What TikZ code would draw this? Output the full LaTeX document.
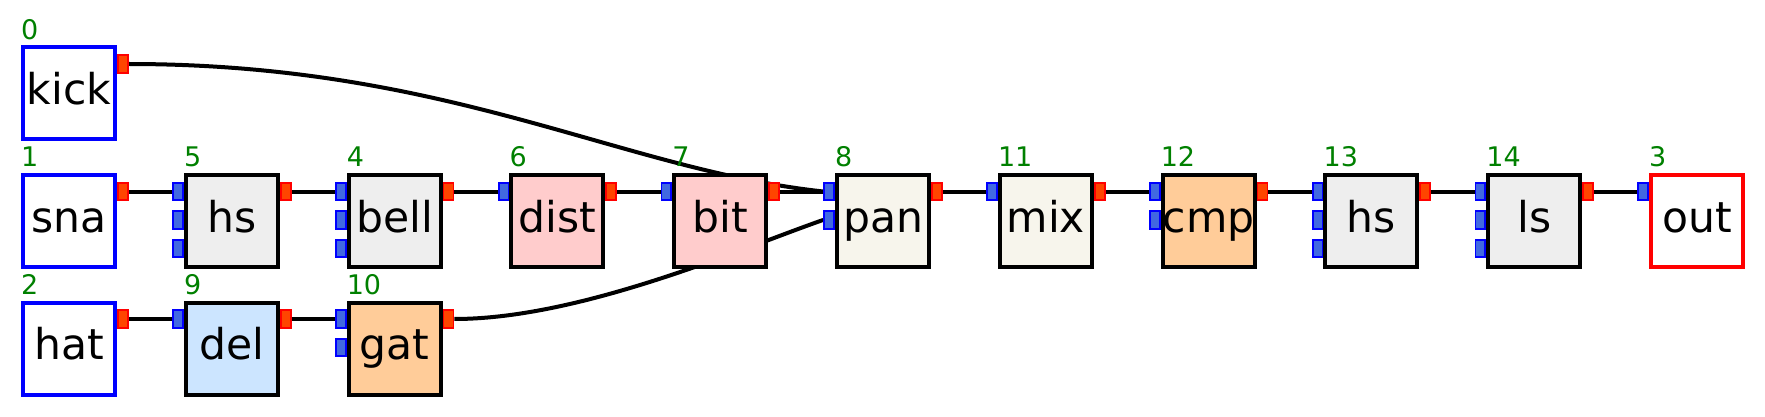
\documentclass[tikz,border=0pt]{standalone}
\usepackage{fontspec}
\setmainfont{DejaVu Sans}
\usetikzlibrary{positioning,backgrounds}
\definecolor{fillgray}{HTML}{EEEEEE}
\definecolor{fillpink}{HTML}{FFCCCC}
\definecolor{fillpeach}{HTML}{FFCC99}
\definecolor{fillivory}{HTML}{F7F5EC}
\definecolor{fillsky}{HTML}{CCE5FF}
\definecolor{portblue}{HTML}{4169E1}
\definecolor{portred}{HTML}{FF4500}
\definecolor{numgreen}{HTML}{008000}

\begin{document}
\begin{tikzpicture}[x=1pt, y=-1pt, node distance={31.5pt and 66.8pt},
  blk/.style={draw, line width=4pt, fill=fillgray, minimum width=92pt,
    minimum height=92pt, inner sep=0pt, text height=32pt, text depth=10pt,
    font=\fontsize{42.5}{50}\selectfont, label={[lbl]north west:#1}},
  src/.style={blk=#1, draw=blue, fill=white},
  snk/.style={blk=#1, draw=red, fill=white},
  lbl/.style={anchor=base west, inner sep=0pt, yshift=6pt, text=numgreen,
    font=\fontsize{27}{32}\selectfont},
  inp/.style={draw=blue, fill=portblue, line width=1.8pt, minimum width=9.9pt,
    minimum height=17.4pt, inner sep=0pt, anchor=east},
  outp/.style={inp, draw=red, fill=portred, anchor=west},
  wire/.style={line width=4pt}]
  \useasboundingbox (0,0) rectangle (1765,417);

  \node [src=1, anchor=north west] (sna) at (21,173) {sna};
  \node [src=0, above=of sna] (kick) {kick};
  \node [src=2, below=of sna] (hat) {hat};
  \node [blk=5, right=of sna] (hsa) {hs};
  \node [blk=4, right=of hsa] (bell) {bell};
  \node [blk=6, fill=fillpink, right=of bell] (dist) {dist};
  \node [blk=7, fill=fillpink, right=of dist] (bit) {bit};
  \node [blk=8, fill=fillivory, right=of bit] (pan) {pan};
  \node [blk=11, fill=fillivory, right=of pan] (mix) {mix};
  \node [blk=12, fill=fillpeach, right=of mix] (cmp) {cmp};
  \node [blk=13, right=of cmp] (hsb) {hs};
  \node [blk=14, right=of hsb] (ls) {ls};
  \node [snk=3, right=of ls] (out) {out};
  \node [blk=9, fill=fillsky, below=of hsa] (del) {del};
  \node [blk=10, fill=fillpeach, below=of bell] (gat) {gat};

  \foreach \n/\k in {hsa/3, bell/3, dist/1, bit/1, pan/2, mix/1, cmp/2,
      hsb/3, ls/3, out/1, del/1, gat/2}
    \foreach \i in {1,...,\k}
      \node [inp] (\n-i\i) at ([yshift=-18.5pt-(\i-1)*28.4pt]\n.north west) {};
  \foreach \n in {kick, sna, hat, hsa, bell, dist, bit, pan, mix, cmp, hsb, ls,
      del, gat}
    \node [outp] (\n-o) at ([yshift=-18.5pt]\n.north east) {};

  \begin{scope}[on background layer]
  \begin{scope}[wire]
    \draw (sna-o) -- (hsa-i1);
    \draw (hsa-o) -- (bell-i1);
    \draw (bell-o) -- (dist-i1);
    \draw (dist-o) -- (bit-i1);
    \draw (bit-o) -- (pan-i1);
    \draw (kick-o.east) .. controls +(321,0) and +(-203,-22) .. (pan-i1.west);
    \draw (gat-o.east) .. controls +(126,0) and +(-83,29) .. (pan-i2.west);
    \draw (pan-o) -- (mix-i1);
    \draw (mix-o) -- (cmp-i1);
    \draw (cmp-o) -- (hsb-i1);
    \draw (hsb-o) -- (ls-i1);
    \draw (ls-o) -- (out-i1);
    \draw (hat-o) -- (del-i1);
    \draw (del-o) -- (gat-i1);
  \end{scope}
  \end{scope}
\end{tikzpicture}
\end{document}
